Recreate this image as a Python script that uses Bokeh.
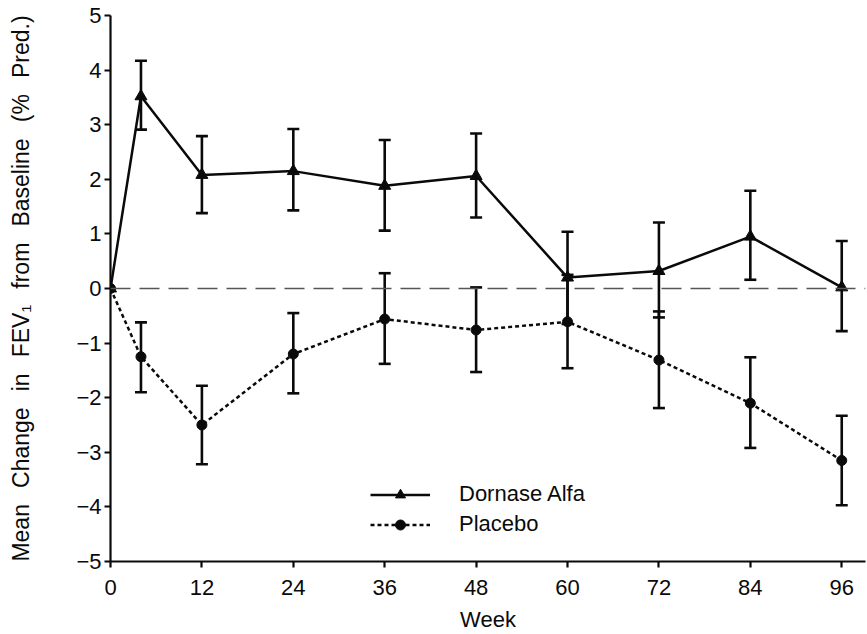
from bokeh.plotting import figure
from bokeh.models import (ColumnDataSource, Whisker, TeeHead, Span, Range1d,
                          Legend, LegendItem, FixedTicker)
from bokeh.embed import file_html
from bokeh.resources import INLINE

# ---- data ----
weeks = [0, 4, 12, 24, 36, 48, 60, 72, 84, 96]
dornase_mean = [0, 3.52, 2.08, 2.15, 1.88, 2.06, 0.20, 0.32, 0.95, 0.02]
placebo_mean = [0, -1.25, -2.50, -1.20, -0.56, -0.76, -0.61, -1.31, -2.10, -3.15]

err_weeks = [4, 12, 24, 36, 48, 60, 72, 84, 96]
dornase_upper = [4.17, 2.79, 2.92, 2.72, 2.84, 1.04, 1.21, 1.79, 0.87]
dornase_lower = [2.91, 1.38, 1.43, 1.06, 1.30, -0.65, -0.53, 0.16, -0.78]
placebo_upper = [-0.62, -1.78, -0.45, 0.28, 0.02, 0.25, -0.42, -1.26, -2.33]
placebo_lower = [-1.90, -3.22, -1.92, -1.38, -1.53, -1.46, -2.19, -2.92, -3.97]

x_ticks = [0, 12, 24, 36, 48, 60, 72, 84, 96]
y_ticks = [-5, -4, -3, -2, -1, 0, 1, 2, 3, 4, 5]
y_tick_labels = {v: (str(v) if v >= 0 else "\u2212" + str(-v)) for v in y_ticks}

FONT = "Liberation Sans"
FS = "22px"
INK = "#0a0a0a"
GAP = "\u2002\u2009"  # wider word gaps as in the reference label

p = figure(width=867, height=634, output_backend="svg", toolbar_location=None,
           x_range=Range1d(0, 99.12), y_range=Range1d(-5, 5),
           min_border_left=110, min_border_right=2, min_border_top=15,
           min_border_bottom=73)
p.outline_line_color = None
p.xgrid.visible = False
p.ygrid.visible = False
p.background_fill_color = "white"

# zero reference line
p.add_layout(Span(location=0, dimension="width", line_color="#555555",
                  line_width=1.6, line_dash="20 9"))

src_d = ColumnDataSource(dict(x=weeks, y=dornase_mean))
src_p = ColumnDataSource(dict(x=weeks, y=placebo_mean))
err_d = ColumnDataSource(dict(x=err_weeks, up=dornase_upper, lo=dornase_lower))
err_p = ColumnDataSource(dict(x=err_weeks, up=placebo_upper, lo=placebo_lower))

for src in (err_d, err_p):
    w = Whisker(source=src, base="x", upper="up", lower="lo",
                line_color=INK, line_width=2.6,
                upper_head=TeeHead(size=12, line_width=2.6, line_color=INK),
                lower_head=TeeHead(size=12, line_width=2.6, line_color=INK))
    p.add_layout(w)

ld = p.line("x", "y", source=src_d, line_color=INK, line_width=2.5)
sd = p.scatter("x", "y", source=src_d, marker="triangle", size=12,
               fill_color=INK, line_color=INK)
lp = p.line("x", "y", source=src_p, line_color=INK, line_width=2.5,
            line_dash="4 3")
sp = p.scatter("x", "y", source=src_p, marker="circle", size=10,
               fill_color=INK, line_color=INK)

legend = Legend(items=[LegendItem(label="Dornase Alfa", renderers=[ld, sd]),
                       LegendItem(label="Placebo", renderers=[lp, sp])],
                location=(260, 24), border_line_color=None,
                background_fill_alpha=0, padding=0, margin=0, spacing=4,
                glyph_width=60, glyph_height=25, label_height=25,
                label_standoff=29, label_text_font=FONT,
                label_text_font_size=FS, label_text_color=INK)
p.add_layout(legend, "center")

# axes
p.xaxis.ticker = FixedTicker(ticks=x_ticks)
p.yaxis.ticker = FixedTicker(ticks=y_ticks)
p.yaxis.major_label_overrides = y_tick_labels
for ax in (p.xaxis, p.yaxis):
    ax.axis_line_width = 2.2
    ax.axis_line_color = INK
    ax.major_tick_line_width = 2.2
    ax.major_tick_line_color = INK
    ax.major_tick_in = 0
    ax.major_tick_out = 6
    ax.minor_tick_line_color = None
    ax.major_label_text_font = FONT
    ax.major_label_text_font_size = FS
    ax.major_label_text_color = INK
    ax.axis_label_text_font = FONT
    ax.axis_label_text_font_size = FS
    ax.axis_label_text_font_style = "normal"
    ax.axis_label_text_color = INK

p.xaxis.axis_label = "Week"
p.xaxis.major_label_standoff = 12
p.xaxis.axis_label_standoff = 9
p.yaxis.axis_label = GAP.join(["Mean", "Change", "in", "FEV\u2081", "from",
                               "Baseline", "(%", "Pred.)"])
p.yaxis.axis_label_text_font_size = "23px"
p.yaxis.major_label_standoff = 3
p.yaxis.axis_label_standoff = 39

open("out.html", "w").write(file_html(p, INLINE))
